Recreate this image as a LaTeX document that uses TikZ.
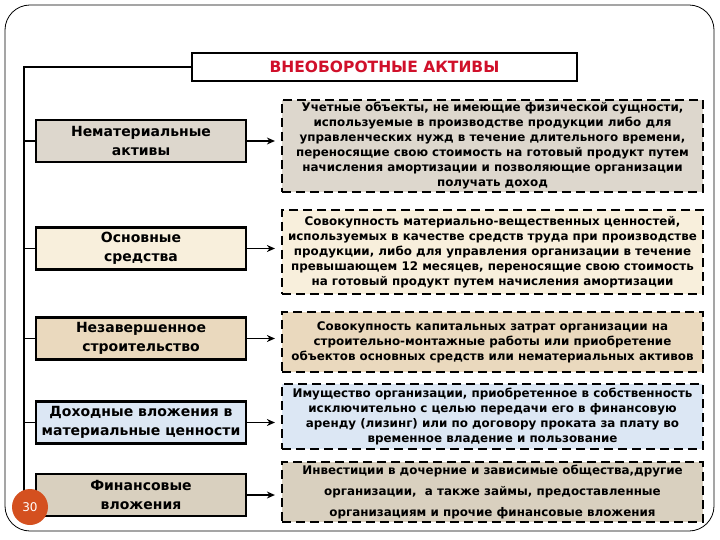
\documentclass[tikz,border=0pt]{standalone}
\usepackage{fontspec}
\setmainfont{DejaVu Sans}
\usepackage{xcolor}
\usetikzlibrary{arrows.meta}

\definecolor{graybeige}{HTML}{DDD7CD}
\definecolor{cream}{HTML}{F8EFDC}
\definecolor{tan}{HTML}{EAD9BE}
\definecolor{lightblue}{HTML}{DCE7F4}
\definecolor{finbeige}{HTML}{D9D0BF}
\definecolor{titlered}{HTML}{D0102A}
\definecolor{badge}{HTML}{D4501F}

\begin{document}
\begin{tikzpicture}[x=1pt, y=-1pt,
    kind/.style={draw, line width=2.2pt, minimum width=210pt, minimum height=42pt, align=center,
                 inner sep=0pt, font=\bfseries\fontsize{14}{18.5}\selectfont},
    note/.style={draw, line width=2.2pt, dash pattern=on 9pt off 5pt, minimum width=421pt, align=center,
                 inner sep=0pt, font=\bfseries\fontsize{11.9}{15}\selectfont},
    link/.style={line width=1.6pt, -{Stealth[length=8pt, width=7pt]}, shorten >=6pt}]
                    \useasboundingbox (0,0) rectangle (720,540);
                    \draw[line width=0.8pt, rounded corners=25pt] (5,5) rectangle (714,531);

                    \node[draw, line width=2.2pt, minimum width=385pt, minimum height=28pt, inner sep=0pt,
                          text=titlered, font=\bfseries\fontsize{15.5}{17}\selectfont] (title) at (384.5,67) {ВНЕОБОРОТНЫЕ АКТИВЫ};

                    \node[kind, fill=graybeige] (nma) at (141,141) {Нематериальные\\активы};
                    \node[kind, fill=cream] (os) at (141,248.5) {Основные\\средства};
                    \node[kind, fill=tan] (ns) at (141,338.5) {Незавершенное\\строительство};
                    \node[kind, fill=lightblue] (dv) at (141,422.5) {Доходные вложения в\\материальные ценности};
                    \node[kind, fill=finbeige] (fv) at (141,495) {Финансовые\\вложения};

                    \node[note, fill=graybeige, minimum height=92pt] (nmaDef) at (492.5,146) {Учетные объекты, не имеющие физической сущности,\\используемые в производстве продукции либо для\\управленческих нужд в течение длительного времени,\\переносящие свою стоимость на готовый продукт путем\\начисления амортизации и позволяющие организации\\получать доход};
                    \node[note, fill=cream, minimum height=84pt] (osDef) at (492.5,252) {Совокупность материально-вещественных ценностей,\\используемых в качестве средств труда при производстве\\продукции, либо для управления организации в течение\\превышающем 12 месяцев, переносящие свою стоимость\\на готовый продукт путем начисления амортизации};
                    \node[note, fill=tan, minimum height=60pt] (nsDef) at (492.5,342) {Совокупность капитальных затрат организации на\\строительно-монтажные работы или приобретение\\объектов основных средств или нематериальных активов};
                    \node[note, fill=lightblue, minimum height=65pt] (dvDef) at (492.5,416.5) {Имущество организации, приобретенное в собственность\\исключительно с целью передачи его в финансовую\\аренду (лизинг) или по договору проката за плату во\\временное владение и пользование};
                    \node[note, fill=finbeige, minimum height=60pt] (fvDef) at (492.5,492) {Инвестиции в дочерние и зависимые общества,другие\\[6pt]организации,\ \ а также займы, предоставленные\\[6pt]организациям и прочие финансовые вложения};

                    % bus on the left
                    \coordinate (busTop) at (24,67);
                    \coordinate (busEnd) at (24,495);
                    \draw[line width=1.6pt] (title.west) -- (busTop) -- (busEnd) -- (fv.west);
                    \draw[line width=1.6pt] (nma.west -| busTop) -- (nma.west);
                    \draw[line width=1.6pt] (os.west -| busTop) -- (os.west);
                    \draw[line width=1.6pt] (ns.west -| busTop) -- (ns.west);
                    \draw[line width=1.6pt] (dv.west -| busTop) -- (dv.west);

                    \draw[link] (nma.east) -- (nma.east -| nmaDef.west);
                    \draw[link] (os.east) -- (os.east -| osDef.west);
                    \draw[link] (ns.east) -- (ns.east -| nsDef.west);
                    \draw[link] (dv.east) -- (dv.east -| dvDef.west);
                    \draw[link] (fv.east) -- (fv.east -| fvDef.west);

                    \node[circle, fill=badge, minimum size=36pt, inner sep=0pt, text=white,
                          font=\fontsize{12}{14}\selectfont] (page) at (30,507) {30};
                \end{tikzpicture}
\end{document}
